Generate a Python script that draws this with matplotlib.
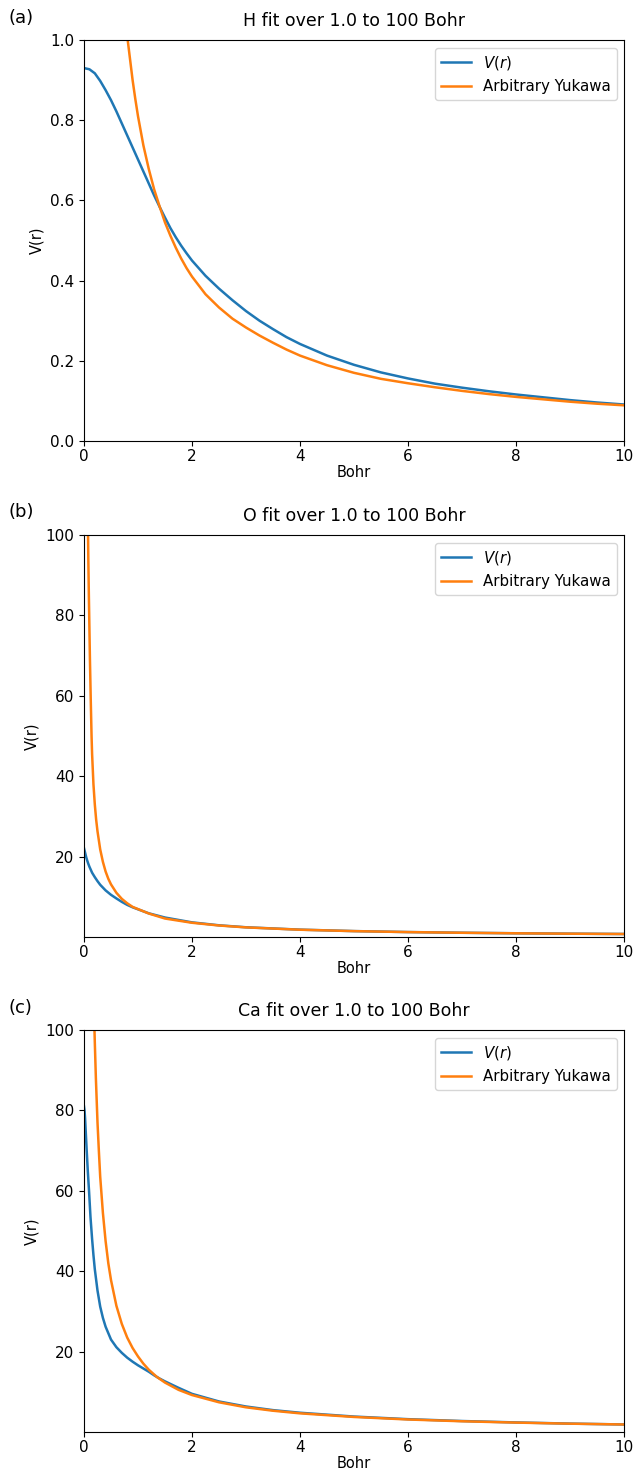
import matplotlib
matplotlib.use("Agg")
import matplotlib.pyplot as plt

# ---------------- data ----------------
# Panel (a): H
h_r_vr = [0, 0.1, 0.2, 0.3, 0.4, 0.5, 0.6, 0.7, 0.8, 0.9, 1.0, 1.1, 1.2, 1.3, 1.4,
          1.5, 1.6, 1.7, 1.8, 1.9, 2.0, 2.25, 2.5, 2.75, 3.0, 3.25, 3.5, 3.75, 4.0,
          4.5, 5, 5.5, 6, 6.5, 7, 7.5, 8, 8.5, 9, 9.5, 10]
h_vr = [0.930, 0.927, 0.917, 0.898, 0.875, 0.850, 0.822, 0.792, 0.762, 0.732, 0.702,
        0.672, 0.642, 0.612, 0.584, 0.557, 0.531, 0.508, 0.487, 0.468, 0.450, 0.412,
        0.380, 0.351, 0.324, 0.300, 0.279, 0.259, 0.242, 0.213, 0.190, 0.171, 0.156,
        0.143, 0.133, 0.124, 0.116, 0.109, 0.102, 0.096, 0.091]
h_r_yuk = [0.78, 0.8, 0.85, 0.9, 0.95, 1.0, 1.1, 1.2, 1.3, 1.4, 1.5, 1.6, 1.7, 1.8,
           1.9, 2.0, 2.25, 2.5, 2.75, 3.0, 3.25, 3.5, 3.75, 4.0, 4.5, 5, 5.5, 6, 6.5,
           7, 7.5, 8, 8.5, 9, 9.5, 10]
h_yuk = [1.04, 1.01, 0.955, 0.90, 0.853, 0.81, 0.737, 0.678, 0.627, 0.585, 0.545,
         0.512, 0.482, 0.455, 0.431, 0.41, 0.366, 0.333, 0.305, 0.283, 0.263, 0.245,
         0.228, 0.213, 0.189, 0.170, 0.155, 0.144, 0.134, 0.125, 0.117, 0.110, 0.104,
         0.098, 0.093, 0.089]

# Panel (b): O
o_r_vr = [0, 0.02, 0.04, 0.06, 0.08, 0.1, 0.15, 0.2, 0.25, 0.3, 0.4, 0.5, 0.6, 0.7,
          0.8, 0.9, 1.0, 1.2, 1.5, 2.0, 2.5, 3.0, 4, 5, 6, 7, 8, 9, 10]
o_vr = [22.1, 21.0, 19.9, 19.0, 18.2, 17.5, 16.0, 14.9, 13.9, 13.0, 11.6, 10.5, 9.6,
        8.75, 8.0, 7.4, 6.9, 5.9, 4.85, 3.65, 2.92, 2.43, 1.84, 1.48, 1.24, 1.07,
        0.94, 0.84, 0.76]
o_r_yuk = [0.07, 0.075, 0.08, 0.09, 0.1, 0.11, 0.125, 0.14, 0.15, 0.175, 0.2, 0.225,
           0.25, 0.3, 0.35, 0.4, 0.45, 0.5, 0.6, 0.7, 0.8, 0.9, 1.0, 1.2, 1.5, 2.0,
           2.5, 3.0, 4, 5, 6, 7, 8, 9, 10]
o_yuk = [107, 100, 94, 85, 77, 69, 59, 50, 45.5, 38, 33, 29.2, 26.3, 21.8, 18.7,
         16.3, 14.5, 13.1, 11.0, 9.5, 8.4, 7.5, 6.95, 5.85, 4.6, 3.55, 2.87, 2.4,
         1.82, 1.47, 1.23, 1.06, 0.93, 0.83, 0.75]

# Panel (c): Ca
ca_r_vr = [0, 0.01, 0.02, 0.035, 0.05, 0.07, 0.093, 0.12, 0.15, 0.175, 0.2, 0.25,
           0.3, 0.35, 0.4, 0.5, 0.6, 0.7, 0.8, 0.9, 1.0, 1.1, 1.2, 1.3, 1.4, 1.5,
           1.75, 2.0, 2.5, 3.0, 3.5, 4, 5, 6, 7, 8, 9, 10]
ca_vr = [81, 80, 78, 74, 70, 65, 60, 53.5, 48, 44, 40.5, 35.2, 31.2, 28.4, 26.2,
         23.0, 21.1, 19.7, 18.5, 17.5, 16.6, 15.8, 15.0, 14.1, 13.3, 12.6, 11.0, 9.5,
         7.6, 6.35, 5.45, 4.8, 3.85, 3.2, 2.74, 2.39, 2.1, 1.88]
ca_r_yuk = [0.19, 0.2, 0.22, 0.25, 0.275, 0.3, 0.35, 0.4, 0.45, 0.5, 0.6, 0.7, 0.8,
            0.9, 1.0, 1.1, 1.2, 1.35, 1.5, 1.75, 2.0, 2.5, 3.0, 3.5, 4, 5, 6, 7, 8,
            9, 10]
ca_yuk = [102, 97, 88, 77, 70, 63.5, 54.5, 47.5, 42, 37.8, 31.4, 26.9, 23.5, 20.9,
          18.8, 17.0, 15.5, 13.7, 12.3, 10.5, 9.2, 7.4, 6.15, 5.3, 4.65, 3.75, 3.12,
          2.68, 2.35, 2.08, 1.88]

titles = ["H fit over 1.0 to 100 Bohr", "O fit over 1.0 to 100 Bohr",
          "Ca fit over 1.0 to 100 Bohr"]
panel_tags = ["(a)", "(b)", "(c)"]
series_labels = ["$V(r)$", "Arbitrary Yukawa"]
ylims = [(0, 1.0), (0.01, 100), (0.01, 100)]

panels = [
    (h_r_vr, h_vr, h_r_yuk, h_yuk),
    (o_r_vr, o_vr, o_r_yuk, o_yuk),
    (ca_r_vr, ca_vr, ca_r_yuk, ca_yuk),
]

# ---------------- figure ----------------
W, H = 636, 1474
fig = plt.figure(figsize=(W / 100, H / 100), dpi=100)

# axes boxes in pixels: (left, top, right, bottom)
boxes = [(84, 40, 624, 441), (84, 535, 624, 937), (84, 1030, 624, 1432)]
tag_pos = [(8, 18), (8, 512), (8, 1008)]

for i, (rv, vv, ry, vy) in enumerate(panels):
    l, t, r, b = boxes[i]
    ax = fig.add_axes([l / W, 1 - b / H, (r - l) / W, (b - t) / H])
    ax.plot(rv, vv, color="#1f77b4", lw=1.8, label=series_labels[0])
    ax.plot(ry, vy, color="#ff7f0e", lw=1.8, label=series_labels[1])
    ax.set_xlim(0, 10)
    ax.set_ylim(*ylims[i])
    if i == 0:
        ax.set_yticks([0.0, 0.2, 0.4, 0.6, 0.8, 1.0])
    else:
        ax.set_yticks([20, 40, 60, 80, 100])
    ax.set_xticks([0, 2, 4, 6, 8, 10])
    ax.set_title(titles[i], fontsize=12.5, pad=10)
    ax.set_xlabel("Bohr", fontsize=10.5, labelpad=1)
    ax.set_ylabel("V(r)", fontsize=10.5)
    ax.tick_params(labelsize=11)
    ax.tick_params(axis="x", pad=2)
    ax.legend(loc="upper right", fontsize=10.8, frameon=True)
    fig.text(tag_pos[i][0] / W, 1 - tag_pos[i][1] / H, panel_tags[i],
             fontsize=13, ha="left", va="center")

fig.savefig("out.png", dpi=100)
